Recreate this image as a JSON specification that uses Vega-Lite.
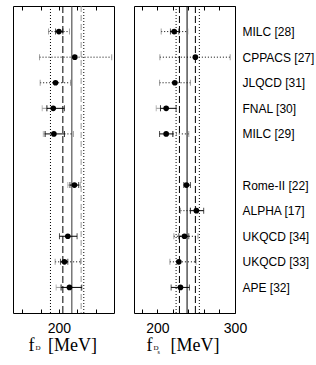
{
  "$schema": "https://vega.github.io/schema/vega-lite/v6.json",
  "padding": {"left": 12, "top": 5, "right": 0, "bottom": 0},
  "config": {"view": {"stroke": "black", "strokeWidth": 1}, "axis": {"grid": false}},
  "spacing": 18,
  "resolve": {"scale": {"x": "independent", "y": "shared"}},
  "datasets": {
    "fD": [
      {"name": "MILC [28]", "v": 200, "slo": 196.3, "shi": 204.3, "dlo": 188.7, "dhi": 211.5},
      {"name": "CPPACS [27]", "v": 217.3, "dlo": 178.9, "dhi": 257.5},
      {"name": "JLQCD [31]", "v": 196.3, "dlo": 179.6, "dhi": 212.6},
      {"name": "FNAL [30]", "v": 193.8, "slo": 186.9, "shi": 206, "glo": 181.8, "ghi": 186.9},
      {"name": "MILC [29]", "v": 194.5, "slo": 185, "shi": 206, "dlo": 206, "dhi": 215.8, "glo": 183, "ghi": 185},
      {"name": "Rome-II [22]", "v": 216.9, "slo": 212, "shi": 221.5, "glo": 209.7, "ghi": 223.4},
      {"name": "UKQCD [34]", "v": 209.7, "slo": 200.6, "shi": 219.8},
      {"name": "UKQCD [33]", "v": 206, "slo": 201.7, "shi": 209.7, "dlo": 195.9, "dhi": 223.4},
      {"name": "APE [32]", "v": 211.5, "slo": 202.4, "shi": 224.9, "glo": 197, "ghi": 202.4}
    ],
    "fDs": [
      {"name": "MILC [28]", "v": 221.7, "slo": 216.9, "shi": 227.7, "dlo": 205, "dhi": 239.2},
      {"name": "CPPACS [27]", "v": 249, "dlo": 203.3, "dhi": 293.8},
      {"name": "JLQCD [31]", "v": 222.5, "dlo": 202.9, "dhi": 242.6},
      {"name": "FNAL [30]", "v": 211.4, "slo": 204.1, "shi": 224.2, "glo": 198.6, "ghi": 204.1},
      {"name": "MILC [29]", "v": 211.4, "slo": 202.9, "shi": 220, "dlo": 220, "dhi": 240.5},
      {"name": "Rome-II [22]", "v": 237.5, "slo": 234.1, "shi": 242.6},
      {"name": "ALPHA [17]", "v": 250.3, "slo": 242.6, "shi": 259.7, "dlo": 229.8, "dhi": 242.6},
      {"name": "UKQCD [34]", "v": 234.9, "slo": 227.7, "shi": 240.5, "dlo": 221.3, "dhi": 252.4},
      {"name": "UKQCD [33]", "v": 227.7, "dlo": 216.2, "dhi": 249.9},
      {"name": "APE [32]", "v": 229.8, "slo": 217.8, "shi": 241.3}
    ],
    "fDlines": [
      {"v": 190.8, "kind": "dot"},
      {"v": 204.3, "kind": "dash"},
      {"v": 214.1, "kind": "solid"},
      {"v": 224.2, "kind": "graydash"},
      {"v": 227.1, "kind": "dot"}
    ],
    "fDslines": [
      {"v": 224.2, "kind": "dot"},
      {"v": 228.5, "kind": "dash"},
      {"v": 238.3, "kind": "solid"},
      {"v": 249, "kind": "dash"},
      {"v": 254.1, "kind": "dot"}
    ]
  },
  "hconcat": [
    {
      "width": 101,
      "height": 307,
      "resolve": {"axis": {"x": "independent", "y": "independent"}},
      "layer": [
        {
          "data": {"name": "fDlines"},
          "mark": {"type": "rule"},
          "encoding": {
            "x": {"field": "v", "type": "quantitative", "scale": {"domain": [150, 260], "nice": false, "zero": false},
              "axis": {"orient": "top", "values": [160, 180, 200, 220, 240], "labels": false, "domain": false, "tickSize": -4, "tickColor": "black", "minExtent": 0,
                "title": "D", "titleFont": "Liberation Serif", "titleFontSize": 7, "titleFontWeight": "normal", "titleColor": "black", "titleAlign": "left", "titleBaseline": "alphabetic", "titleX": 22, "titleY": 343}},
            "strokeDash": {"field": "kind", "type": "nominal", "scale": {"domain": ["dot", "dash", "solid", "graydash"], "range": [[1, 2], [7, 3], [1, 0], [6, 3]]}, "legend": null},
            "color": {"field": "kind", "type": "nominal", "scale": {"domain": ["dot", "dash", "solid", "graydash"], "range": ["black", "black", "#333333", "#999999"]}, "legend": null},
            "strokeWidth": {"field": "kind", "type": "nominal", "scale": {"domain": ["dot", "dash", "solid", "graydash"], "range": [1, 1, 2.5, 2.5]}, "legend": null}
          }
        },
        {
          "data": {"name": "fD"},
          "mark": {"type": "rule", "strokeDash": [1, 2], "color": "black", "strokeWidth": 1},
          "encoding": {
            "x": {"field": "dlo", "type": "quantitative", "scale": {"domain": [150, 260], "nice": false, "zero": false}, "axis": null},
            "x2": {"field": "dhi"},
            "y": {"field": "name", "type": "nominal", "scale": {"type": "point", "padding": 1, "domain": ["MILC [28]", "CPPACS [27]", "JLQCD [31]", "FNAL [30]", "MILC [29]", " ", "Rome-II [22]", "ALPHA [17]", "UKQCD [34]", "UKQCD [33]", "APE [32]"]}, "axis": null}
          }
        },
        {
          "data": {"name": "fD"},
          "transform": [{"fold": ["dlo", "dhi"], "as": ["k", "c"]}],
          "mark": {"type": "tick", "orient": "vertical", "size": 6, "thickness": 1, "color": "#777777"},
          "encoding": {
            "x": {"field": "c", "type": "quantitative", "scale": {"domain": [150, 260], "nice": false, "zero": false}, "axis": null},
            "y": {"field": "name", "type": "nominal", "axis": null}
          }
        },
        {
          "data": {"name": "fD"},
          "mark": {"type": "rule", "color": "#999999", "strokeWidth": 1},
          "encoding": {
            "x": {"field": "glo", "type": "quantitative", "scale": {"domain": [150, 260], "nice": false, "zero": false}, "axis": null},
            "x2": {"field": "ghi"},
            "y": {"field": "name", "type": "nominal", "axis": null}
          }
        },
        {
          "data": {"name": "fD"},
          "transform": [{"fold": ["glo", "ghi"], "as": ["k", "c"]}],
          "mark": {"type": "tick", "orient": "vertical", "size": 6, "thickness": 1, "color": "#999999"},
          "encoding": {
            "x": {"field": "c", "type": "quantitative", "scale": {"domain": [150, 260], "nice": false, "zero": false}, "axis": null},
            "y": {"field": "name", "type": "nominal", "axis": null}
          }
        },
        {
          "data": {"name": "fD"},
          "mark": {"type": "rule", "color": "black", "strokeWidth": 1},
          "encoding": {
            "x": {"field": "slo", "type": "quantitative", "scale": {"domain": [150, 260], "nice": false, "zero": false}, "axis": null},
            "x2": {"field": "shi"},
            "y": {"field": "name", "type": "nominal", "axis": null}
          }
        },
        {
          "data": {"name": "fD"},
          "transform": [{"fold": ["slo", "shi"], "as": ["k", "c"]}],
          "mark": {"type": "tick", "orient": "vertical", "size": 6, "thickness": 1, "color": "black"},
          "encoding": {
            "x": {"field": "c", "type": "quantitative", "scale": {"domain": [150, 260], "nice": false, "zero": false}, "axis": null},
            "y": {"field": "name", "type": "nominal", "axis": null}
          }
        },
        {
          "data": {"name": "fD"},
          "mark": {"type": "circle", "size": 32, "color": "black", "opacity": 1},
          "encoding": {
            "x": {"field": "v", "type": "quantitative", "scale": {"domain": [150, 260], "nice": false, "zero": false},
              "axis": {"orient": "bottom", "values": [160, 180, 200, 220, 240], "labelExpr": "datum.value == 200 ? '200' : ''", "labelFlush": false, "domain": false, "tickSize": -4, "tickColor": "black",
                "labelFont": "Liberation Sans", "labelFontSize": 14, "labelColor": "black", "labelPadding": 12,
                "title": "f\u00a0\u00a0\u00a0[MeV]", "titleFont": "Liberation Serif", "titleFontSize": 18, "titleFontWeight": "normal", "titleColor": "black", "titleAlign": "left", "titleBaseline": "alphabetic", "titleX": 15, "titleY": 37}},
            "y": {"field": "name", "type": "nominal", "axis": null}
          }
        }
      ]
    },
    {
      "width": 101,
      "height": 307,
      "resolve": {"axis": {"x": "independent", "y": "independent"}},
      "layer": [
        {
          "data": {"name": "fDslines"},
          "mark": {"type": "rule"},
          "encoding": {
            "x": {"field": "v", "type": "quantitative", "scale": {"domain": [170, 300], "nice": false, "zero": false},
              "axis": {"orient": "top", "values": [180, 200, 220, 240, 260, 280, 300], "labels": false, "domain": false, "tickSize": -4, "tickColor": "black", "minExtent": 0,
                "title": "D", "titleFont": "Liberation Serif", "titleFontSize": 7, "titleFontWeight": "normal", "titleColor": "black", "titleAlign": "left", "titleBaseline": "alphabetic", "titleX": 19, "titleY": 343}},
            "strokeDash": {"field": "kind", "type": "nominal", "scale": {"domain": ["dot", "dash", "solid"], "range": [[1, 2], [7, 3], [1, 0]]}, "legend": null},
            "strokeWidth": {"field": "kind", "type": "nominal", "scale": {"domain": ["dot", "dash", "solid"], "range": [1, 1, 1.5]}, "legend": null},
            "color": {"value": "black"}
          }
        },
        {
          "data": {"name": "fDs"},
          "mark": {"type": "rule", "strokeDash": [1, 2], "color": "black", "strokeWidth": 1},
          "encoding": {
            "x": {"field": "dlo", "type": "quantitative", "scale": {"domain": [170, 300], "nice": false, "zero": false}, "axis": null},
            "x2": {"field": "dhi"},
            "y": {"field": "name", "type": "nominal",
              "axis": {"orient": "left", "labels": false, "ticks": false, "domain": false, "minExtent": 0,
                "title": "s", "titleAngle": 0, "titleFont": "Liberation Serif", "titleFontSize": 6, "titleFontWeight": "normal", "titleColor": "black", "titleAlign": "left", "titleBaseline": "alphabetic", "titleX": 23, "titleY": 347}}
          }
        },
        {
          "data": {"name": "fDs"},
          "transform": [{"fold": ["dlo", "dhi"], "as": ["k", "c"]}],
          "mark": {"type": "tick", "orient": "vertical", "size": 6, "thickness": 1, "color": "#777777"},
          "encoding": {
            "x": {"field": "c", "type": "quantitative", "scale": {"domain": [170, 300], "nice": false, "zero": false}, "axis": null},
            "y": {"field": "name", "type": "nominal", "axis": null}
          }
        },
        {
          "data": {"name": "fDs"},
          "mark": {"type": "rule", "color": "#999999", "strokeWidth": 1},
          "encoding": {
            "x": {"field": "glo", "type": "quantitative", "scale": {"domain": [170, 300], "nice": false, "zero": false}, "axis": null},
            "x2": {"field": "ghi"},
            "y": {"field": "name", "type": "nominal", "axis": null}
          }
        },
        {
          "data": {"name": "fDs"},
          "transform": [{"fold": ["glo", "ghi"], "as": ["k", "c"]}],
          "mark": {"type": "tick", "orient": "vertical", "size": 6, "thickness": 1, "color": "#999999"},
          "encoding": {
            "x": {"field": "c", "type": "quantitative", "scale": {"domain": [170, 300], "nice": false, "zero": false}, "axis": null},
            "y": {"field": "name", "type": "nominal", "axis": null}
          }
        },
        {
          "data": {"name": "fDs"},
          "mark": {"type": "rule", "color": "black", "strokeWidth": 1},
          "encoding": {
            "x": {"field": "slo", "type": "quantitative", "scale": {"domain": [170, 300], "nice": false, "zero": false}, "axis": null},
            "x2": {"field": "shi"},
            "y": {"field": "name", "type": "nominal", "axis": null}
          }
        },
        {
          "data": {"name": "fDs"},
          "transform": [{"fold": ["slo", "shi"], "as": ["k", "c"]}],
          "mark": {"type": "tick", "orient": "vertical", "size": 6, "thickness": 1, "color": "black"},
          "encoding": {
            "x": {"field": "c", "type": "quantitative", "scale": {"domain": [170, 300], "nice": false, "zero": false}, "axis": null},
            "y": {"field": "name", "type": "nominal", "axis": null}
          }
        },
        {
          "data": {"name": "fDs"},
          "mark": {"type": "circle", "size": 32, "color": "black", "opacity": 1},
          "encoding": {
            "x": {"field": "v", "type": "quantitative", "scale": {"domain": [170, 300], "nice": false, "zero": false},
              "axis": {"orient": "bottom", "values": [180, 200, 220, 240, 260, 280, 300], "labelExpr": "datum.value == 200 || datum.value == 300 ? format(datum.value, 'd') : ''", "labelFlush": false, "domain": false, "tickSize": -4, "tickColor": "black",
                "labelFont": "Liberation Sans", "labelFontSize": 14, "labelColor": "black", "labelPadding": 12,
                "title": "f\u00a0\u00a0\u00a0\u00a0[MeV]", "titleFont": "Liberation Serif", "titleFontSize": 18, "titleFontWeight": "normal", "titleColor": "black", "titleAlign": "left", "titleBaseline": "alphabetic", "titleX": 12, "titleY": 37}},
            "y": {"field": "name", "type": "nominal",
              "axis": {"orient": "right", "ticks": false, "domain": false, "labelPadding": 7, "labelFont": "Liberation Sans", "labelFontSize": 12, "labelColor": "black", "title": null, "labelBaseline": "middle"}}
          }
        }
      ]
    }
  ]
}
